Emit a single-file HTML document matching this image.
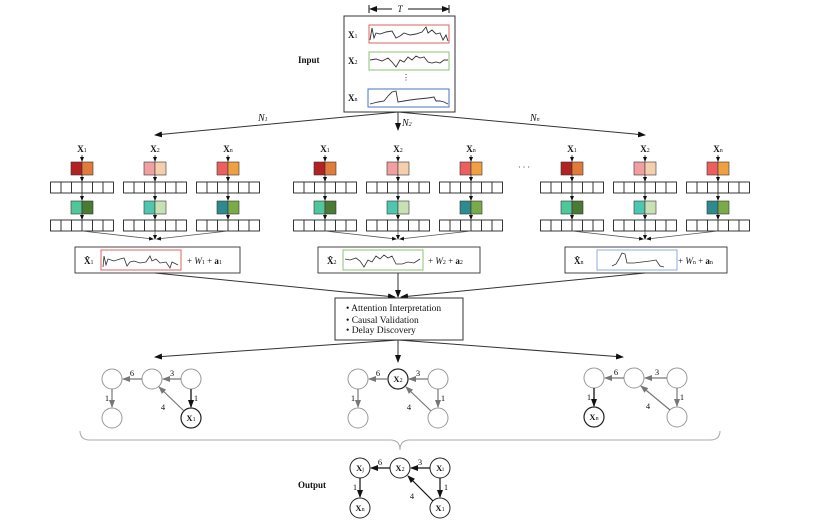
<!DOCTYPE html>
<html><head><meta charset="utf-8"><style>
html,body{margin:0;padding:0;background:#fff;width:828px;height:526px;overflow:hidden}
svg{display:block}
text{font-family:"Liberation Serif",serif;fill:#111}
.b{font-weight:bold}
.i{font-style:italic}
</style></head><body>
<svg width="828" height="526" viewBox="0 0 828 526" xmlns="http://www.w3.org/2000/svg">
<defs>
<marker id="ah" markerWidth="8" markerHeight="8" refX="7" refY="4" orient="auto" markerUnits="userSpaceOnUse"><path d="M0,1 L8,4 L0,7 z" fill="#111"/></marker>
<marker id="as" markerWidth="5" markerHeight="5" refX="4" refY="2.5" orient="auto" markerUnits="userSpaceOnUse"><path d="M0,0.5 L5,2.5 L0,4.5 z" fill="#111"/></marker>
<marker id="ag" markerWidth="8" markerHeight="8" refX="7" refY="4" orient="auto" markerUnits="userSpaceOnUse"><path d="M0,1 L8,4 L0,7 z" fill="#777"/></marker>
<g id="grid" fill="#fff" stroke="#222" stroke-width="0.9">
<rect x="-31.5" y="0" width="63" height="11"/>
<path d="M-21,0v11M-10.5,0v11M0,0v11M10.5,0v11M21,0v11"/>
</g>
<g id="col" stroke="#222" stroke-width="0.8" fill="none">
<line x1="0" y1="155" x2="0" y2="161" marker-end="url(#as)"/>
<use href="#grid" y="182"/>
<line x1="0" y1="175" x2="0" y2="181" marker-end="url(#as)"/>
<line x1="0" y1="193" x2="0" y2="200" marker-end="url(#as)"/>
<use href="#grid" y="220"/>
<line x1="0" y1="214" x2="0" y2="219" marker-end="url(#as)"/>
</g>
<g id="conv" stroke="#555" stroke-width="0.8" fill="none">
<path d="M-73,231 L-2,239" marker-end="url(#as)"/>
<path d="M73,231 L2,239" marker-end="url(#as)"/>
<path d="M0,231 L0,239" marker-end="url(#as)"/>
</g>
</defs>

<!-- Input -->
<text x="298" y="63" font-size="9" class="b">Input</text>
<line x1="369" y1="5" x2="369" y2="13" stroke="#111"/><line x1="449" y1="5" x2="449" y2="13" stroke="#111"/>
<path d="M377,6 L369,9 L377,12z" fill="#111"/>
<line x1="375" y1="9" x2="392" y2="9" stroke="#111"/>
<line x1="408" y1="9" x2="449" y2="9" stroke="#111" marker-end="url(#ah)"/>
<text x="400" y="12" font-size="9" font-style="italic" text-anchor="middle">T</text>
<rect x="344" y="16" width="111" height="96" fill="#fff" stroke="#333" stroke-width="1"/>
<text x="348" y="38" font-size="9" class="b">X<tspan font-size="6" font-weight="normal">1</tspan></text>
<text x="348" y="64" font-size="9" class="b">X<tspan font-size="6" font-weight="normal">2</tspan></text>
<text x="348" y="101" font-size="9" class="b">X<tspan font-size="6" font-weight="normal">n</tspan></text>
<rect x="369" y="25" width="80" height="18" fill="none" stroke="#e06060"/>
<rect x="369" y="52" width="80" height="18" fill="none" stroke="#8cc070"/>
<rect x="368" y="89" width="81" height="18" fill="none" stroke="#4a70c8"/>
<text x="402" y="80" font-size="8" fill="#888">⋮</text>
<polyline fill="none" stroke="#333" stroke-width="0.9" points="370,40 372,28 374,38 376,33 380,34 386,32 392,31 396,38 400,36 404,33 410,35 416,34 422,32 426,27 428,33 432,30 436,34 440,33 443,40 446,35 448,41"/>
<polyline fill="none" stroke="#333" stroke-width="0.9" points="370,60 376,59 382,61 388,58 392,62 396,67 400,60 404,62 408,57 412,60 416,56 420,58 424,57 428,62 432,63 436,62 440,63 444,60 448,60"/>
<polyline fill="none" stroke="#333" stroke-width="0.9" points="370,104 378,102 384,101 388,96 392,92 396,91 398,102 404,101 410,100 418,99 428,98 434,97 436,101 440,101 444,102 448,104"/>

<!-- top arrows -->
<g stroke="#333" stroke-width="1" fill="none">
<line x1="398" y1="112" x2="155" y2="135" marker-end="url(#ah)"/>
<line x1="398" y1="112" x2="398" y2="130" marker-end="url(#ah)"/>
<line x1="398" y1="112" x2="645" y2="135" marker-end="url(#ah)"/>
</g>
<text x="258" y="121" font-size="10" class="i">N<tspan font-size="6">1</tspan></text>
<text x="402" y="126" font-size="10" class="i">N<tspan font-size="6">2</tspan></text>
<text x="530" y="121" font-size="10" class="i">N<tspan font-size="6">n</tspan></text>
<text x="518" y="170" font-size="8" fill="#666">· · ·</text>

<!-- groups -->
<g font-size="9" class="b" text-anchor="middle">
<text x="82" y="152">X<tspan font-size="6" font-weight="normal">1</tspan></text>
<text x="155" y="152">X<tspan font-size="6" font-weight="normal">2</tspan></text>
<text x="228" y="152">X<tspan font-size="6" font-weight="normal">n</tspan></text>
<text x="325" y="152">X<tspan font-size="6" font-weight="normal">1</tspan></text>
<text x="398" y="152">X<tspan font-size="6" font-weight="normal">2</tspan></text>
<text x="471" y="152">X<tspan font-size="6" font-weight="normal">n</tspan></text>
<text x="572" y="152">X<tspan font-size="6" font-weight="normal">1</tspan></text>
<text x="645" y="152">X<tspan font-size="6" font-weight="normal">2</tspan></text>
<text x="718" y="152">X<tspan font-size="6" font-weight="normal">n</tspan></text>
</g>
<g id="blocks" stroke="#333" stroke-width="0.6">
<rect x="71" y="162" width="11" height="13" fill="#b22222"/><rect x="82" y="162" width="11" height="13" fill="#e07b39"/>
<rect x="71" y="201" width="11" height="13" fill="#4fc79a"/><rect x="82" y="201" width="11" height="13" fill="#4a7a34"/>
<rect x="144" y="162" width="11" height="13" fill="#f0a0a0"/><rect x="155" y="162" width="11" height="13" fill="#f3cfae"/>
<rect x="144" y="201" width="11" height="13" fill="#4fc7b0"/><rect x="155" y="201" width="11" height="13" fill="#c9e0b5"/>
<rect x="217" y="162" width="11" height="13" fill="#ec5f5f"/><rect x="228" y="162" width="11" height="13" fill="#f0a040"/>
<rect x="217" y="201" width="11" height="13" fill="#2f8a8f"/><rect x="228" y="201" width="11" height="13" fill="#7aaa4a"/>
</g>
<use href="#blocks" x="243"/>
<use href="#blocks" x="490"/>
<use href="#col" x="82"/><use href="#col" x="155"/><use href="#col" x="228"/>
<use href="#col" x="325"/><use href="#col" x="398"/><use href="#col" x="471"/>
<use href="#col" x="572"/><use href="#col" x="645"/><use href="#col" x="718"/>
<use href="#conv" x="155"/><use href="#conv" x="398"/><use href="#conv" x="645"/>

<!-- result boxes -->
<g stroke="#333" stroke-width="0.9" fill="#fff">
<rect x="75" y="247" width="165" height="26"/>
<rect x="318" y="247" width="162" height="26"/>
<rect x="565" y="247" width="162" height="26"/>
</g>
<rect x="101" y="250" width="80" height="20" fill="none" stroke="#e06060"/>
<rect x="343" y="250" width="80" height="20" fill="none" stroke="#8cc070"/>
<rect x="597" y="250" width="80" height="20" fill="none" stroke="#90a8e0"/>
<polyline fill="none" stroke="#333" stroke-width="0.8" points="103,267 104,256 106,265 108,259 114,261 120,259 124,258 127,266 130,262 134,261 140,263 146,262 150,256 152,261 156,259 160,263 166,262 170,268 172,262 178,265"/>
<polyline fill="none" stroke="#333" stroke-width="0.8" points="345,259 350,260 356,258 360,261 364,267 368,260 372,262 376,256 380,259 384,255 388,258 392,256 396,264 402,264 408,262 414,263 420,259"/>
<polyline fill="none" stroke="#333" stroke-width="0.8" points="612,266 616,264 619,259 622,253 625,254 627,263 634,263 642,262 650,261 656,260 660,266 664,267"/>
<g font-size="9">
<text x="84" y="264" class="b">X̂<tspan font-size="6" font-weight="normal">1</tspan></text>
<text x="187" y="264">+ <tspan class="i">W</tspan><tspan font-size="6">1</tspan> + <tspan class="b">a</tspan><tspan font-size="6">1</tspan></text>
<text x="327" y="264" class="b">X̂<tspan font-size="6" font-weight="normal">2</tspan></text>
<text x="428" y="264">+ <tspan class="i">W</tspan><tspan font-size="6">2</tspan> + <tspan class="b">a</tspan><tspan font-size="6">2</tspan></text>
<text x="574" y="264" class="b">X̂<tspan font-size="6" font-weight="normal">n</tspan></text>
<text x="678" y="264">+ <tspan class="i">W</tspan><tspan font-size="6">n</tspan> + <tspan class="b">a</tspan><tspan font-size="6">n</tspan></text>
</g>

<g stroke="#333" stroke-width="1" fill="none">
<line x1="155" y1="273" x2="395" y2="297" marker-end="url(#ah)"/>
<line x1="398" y1="273" x2="398" y2="297" marker-end="url(#ah)"/>
<line x1="645" y1="273" x2="401" y2="297" marker-end="url(#ah)"/>
</g>
<rect x="335" y="298" width="128" height="42" fill="#fff" stroke="#333"/>
<g font-size="9.5">
<text x="346" y="311">• Attention Interpretation</text>
<text x="346" y="323">• Causal Validation</text>
<text x="346" y="333">• Delay Discovery</text>
</g>
<g stroke="#333" stroke-width="1" fill="none">
<line x1="398" y1="340" x2="155" y2="357" marker-end="url(#ah)"/>
<line x1="398" y1="340" x2="398" y2="362" marker-end="url(#ah)"/>
<line x1="398" y1="340" x2="623" y2="357" marker-end="url(#ah)"/>
</g>

<!-- graphs -->
<g fill="#fff" stroke="#999" stroke-width="1">
<circle cx="112" cy="379" r="10"/><circle cx="152" cy="379" r="10"/><circle cx="191" cy="379" r="10"/><circle cx="112" cy="418" r="10"/>
<circle cx="358" cy="379" r="10"/><circle cx="438" cy="379" r="10"/><circle cx="358" cy="418" r="10"/><circle cx="438" cy="418" r="10"/>
<circle cx="594" cy="378" r="10"/><circle cx="634" cy="378" r="10"/><circle cx="677" cy="378" r="10"/><circle cx="677" cy="417" r="10"/>
</g>
<g fill="#fff" stroke="#222" stroke-width="1.2">
<circle cx="191" cy="418" r="10"/><circle cx="398" cy="379" r="10"/><circle cx="594" cy="417" r="10"/>
</g>
<g stroke="#777" stroke-width="1.2" fill="none">
<line x1="142" y1="379" x2="123" y2="379" marker-end="url(#ag)"/>
<line x1="181" y1="379" x2="163" y2="379" marker-end="url(#ag)"/>
<line x1="112" y1="389" x2="112" y2="407" marker-end="url(#ag)"/>
<line x1="184" y1="411" x2="159" y2="387" marker-end="url(#ag)"/>
<line x1="388" y1="379" x2="369" y2="379" marker-end="url(#ag)"/>
<line x1="428" y1="379" x2="409" y2="379" marker-end="url(#ag)"/>
<line x1="358" y1="389" x2="358" y2="407" marker-end="url(#ag)"/>
<line x1="438" y1="389" x2="438" y2="407" marker-end="url(#ag)"/>
<line x1="431" y1="411" x2="406" y2="387" marker-end="url(#ag)"/>
<line x1="624" y1="378" x2="605" y2="378" marker-end="url(#ag)"/>
<line x1="667" y1="378" x2="645" y2="378" marker-end="url(#ag)"/>
<line x1="677" y1="388" x2="677" y2="406" marker-end="url(#ag)"/>
<line x1="670" y1="410" x2="641" y2="386" marker-end="url(#ag)"/>
</g>
<g stroke="#111" stroke-width="1.3" fill="none">
<line x1="191" y1="389" x2="191" y2="407" marker-end="url(#ah)"/>
<line x1="594" y1="388" x2="594" y2="406" marker-end="url(#ah)"/>
</g>
<g font-size="8.5" text-anchor="middle">
<text x="132" y="376">6</text><text x="172" y="376">3</text><text x="107" y="401">1</text><text x="196" y="401">1</text><text x="163" y="410">4</text>
<text x="378" y="376">6</text><text x="418" y="376">3</text><text x="353" y="401">1</text><text x="443" y="401">1</text><text x="409" y="410">4</text>
<text x="616" y="375">6</text><text x="657" y="375">3</text><text x="589" y="400">1</text><text x="682" y="400">1</text><text x="648" y="409">4</text>
<text x="191" y="421" class="b">X<tspan font-size="6" font-weight="normal">1</tspan></text>
<text x="398" y="382" class="b">X<tspan font-size="6" font-weight="normal">2</tspan></text>
<text x="594" y="420" class="b">X<tspan font-size="6" font-weight="normal">n</tspan></text>
</g>

<!-- brace -->
<path d="M80,431 Q80,440 90,440 L390,440 Q400,440 400,450 Q400,440 410,440 L710,440 Q720,440 720,431" fill="none" stroke="#aaa" stroke-width="1"/>

<!-- output -->
<text x="298" y="488" font-size="9" class="b">Output</text>
<g fill="#fff" stroke="#222" stroke-width="1">
<circle cx="360" cy="468" r="10"/><circle cx="400" cy="468" r="10"/><circle cx="440" cy="468" r="10"/><circle cx="360" cy="508" r="10"/><circle cx="440" cy="508" r="10"/>
</g>
<g stroke="#111" stroke-width="1.2" fill="none">
<line x1="390" y1="468" x2="371" y2="468" marker-end="url(#ah)"/>
<line x1="430" y1="468" x2="411" y2="468" marker-end="url(#ah)"/>
<line x1="360" y1="478" x2="360" y2="497" marker-end="url(#ah)"/>
<line x1="440" y1="478" x2="440" y2="497" marker-end="url(#ah)"/>
<line x1="433" y1="501" x2="408" y2="476" marker-end="url(#ah)"/>
</g>
<g font-size="8.5" text-anchor="middle">
<text x="380" y="465">6</text><text x="420" y="465">3</text><text x="355" y="490">1</text><text x="446" y="490">1</text><text x="412" y="499">4</text>
<text x="360" y="471" class="b">X<tspan font-size="6" font-weight="normal">j</tspan></text>
<text x="400" y="471" class="b">X<tspan font-size="6" font-weight="normal">2</tspan></text>
<text x="440" y="471" class="b">X<tspan font-size="6" font-weight="normal">i</tspan></text>
<text x="360" y="511" class="b">X<tspan font-size="6" font-weight="normal">n</tspan></text>
<text x="440" y="511" class="b">X<tspan font-size="6" font-weight="normal">1</tspan></text>
</g>
</svg>
</body></html>
